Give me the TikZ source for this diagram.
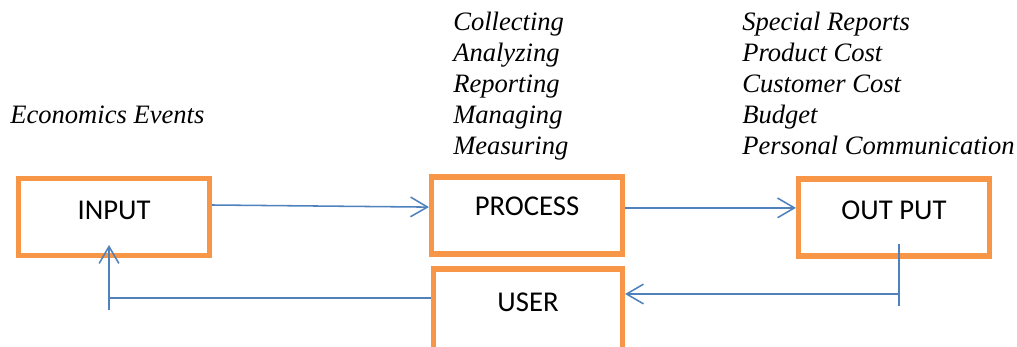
\documentclass[tikz,border=0pt]{standalone}
\usepackage{fontspec}
\setmainfont{Liberation Serif}
\newfontfamily\labelfont{Carlito}
\usetikzlibrary{arrows.meta}
\definecolor{boxorange}{HTML}{F79646}
\definecolor{flowblue}{HTML}{4F81BD}
\tikzset{
	stage/.style={draw=boxorange, line width=3.6pt, fill=white, minimum width=4.775cm, minimum height=1.925cm, text height=0.3cm, text depth=0.2cm, font=\labelfont\fontsize{20.4}{24}\selectfont},
	note/.style={anchor=base west, inner sep=0pt, font=\itshape\fontsize{18.9}{22}\selectfont},
	flow/.style={draw=flowblue, line width=1.1pt},
	flowarrow/.style={flow, -{Straight Barb[length=12pt,width=14pt]}}
}
\begin{document}
\begin{tikzpicture}[x=0.025cm,y=-0.025cm]

	\clip (0,0) rectangle (1017,347);
	\node[stage] (input) at (114,217) {INPUT};
	\node[stage, text depth=0.28cm] (process) at (527,215.5) {PROCESS};
	\node[stage] (output) at (894,217.5) {OUT PUT};
	\node[stage, minimum width=4.725cm, minimum height=2.05cm, text depth=0.24cm] (user) at (528,310) {USER};

	\node[note] (econ) at (10,124) {Economics Events};
	\foreach \txt [count=\i] in {Collecting,Analyzing,Reporting,Managing,Measuring}
		\node[note] (task\i) at (453,{30.5+31*(\i-1)}) {\txt};
	\foreach \txt [count=\i] in {Special Reports,Product Cost,Customer Cost,Budget,Personal Communication}
		\node[note] (report\i) at (742,{30.5+31*(\i-1)}) {\txt};

	\draw[flowarrow] ([yshift=0.3cm]input.east) -- ([yshift=0.21cm]process.west);
	\draw[flowarrow] ([yshift=0.19cm]process.east) -- ([yshift=0.19cm]process.east -| output.west);

	\coordinate (outtap) at (899,244);
	\coordinate (outend) at (899,306);
	\coordinate (usertap) at (899,294);
	\draw[flow] (outtap) -- (outend);
	\draw[flowarrow] (usertap) -- (usertap -| user.east);

	\coordinate (inbend) at (109,298);
	\coordinate (inend) at (109,310);
	\coordinate (intip) at (109,245);
	\draw[flow] (inbend -| user.west) -- (inbend);
	\draw[flowarrow] (inend) -- (intip);

\end{tikzpicture}
\end{document}
